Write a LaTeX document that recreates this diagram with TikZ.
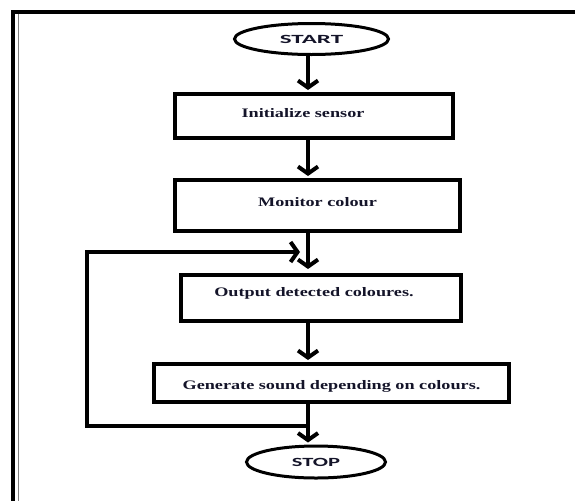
\documentclass[tikz,border=0pt]{standalone}
\usepackage{fontspec}
\setmainfont{Liberation Serif}
\newfontfamily\termfont{Carlito}
\usepackage{graphicx}
\usetikzlibrary{shapes.geometric,arrows.meta,calc}
\definecolor{inkc}{rgb}{0.08,0.08,0.16}
\newcommand{\boxtxt}[1]{\scalebox{1.4}[1]{#1}}
\newcommand{\termtxt}[2]{\scalebox{#1}[1]{#2}}
\tikzset{
  flowbox/.style={draw=black, line width=4pt, rectangle, inner sep=0pt,
    font=\fontsize{13}{15}\selectfont\bfseries, text=inkc, text height=10pt},
  termbox/.style={draw=black, line width=3pt, ellipse, inner sep=0pt,
    font=\termfont\bfseries\fontsize{12.5}{14}\selectfont, text=inkc},
  flowarrow/.style={line width=4pt, -{Straight Barb[length=7pt,width=20pt]}, shorten >=2pt},
  flowline/.style={line width=4pt},
}
\begin{document}
\begin{tikzpicture}[x=1pt,y=-1pt]
\useasboundingbox (0,0) rectangle (575,501);
% frame
\draw[line width=4pt] (11,12) -- (575,12);
\draw[line width=4pt] (13,10) -- (13,501);
\draw[gray, line width=1.2pt] (18.5,14) -- (18.5,501);
% nodes
\node[termbox, minimum width=154pt, minimum height=31pt] (start) at (311.5,39) {\termtxt{2.0}{START}};
\node[flowbox, minimum width=278pt, minimum height=44pt, text depth=8pt] (init) at (314,116) {\boxtxt{Initialize sensor}\kern22pt};
\node[flowbox, minimum width=285pt, minimum height=51pt, text depth=8pt] (mon) at (317.5,205.5) {\boxtxt{Monitor colour}};
\node[flowbox, minimum width=280pt, minimum height=46pt, text depth=13pt] (out) at (321,298) {\boxtxt{Output detected coloures.}\kern14pt};
\node[flowbox, minimum width=355pt, minimum height=38pt, text height=14pt, text depth=1pt] (gen) at (331.5,383) {\boxtxt{Generate sound depending on colours.}};
\node[termbox, minimum width=139pt, minimum height=32pt] (stop) at (316,462) {\termtxt{1.8}{STOP}};
% axis and loop coordinates
\coordinate (axis) at (308,0);
\coordinate (lb) at (87,426);
\coordinate (lt) at (87,252);
\coordinate (ltip) at (300,252);
% connectors
\draw[flowarrow] (axis |- start.south) -- (axis |- init.north);
\draw[flowarrow] (axis |- init.south) -- (axis |- mon.north);
\draw[flowarrow, shorten >=4pt] (axis |- mon.south) -- (axis |- out.north);
\draw[flowarrow] (axis |- out.south) -- (axis |- gen.north);
\draw[flowarrow] (axis |- gen.south) -- (axis |- stop.north);
\draw[flowarrow, shorten >=0pt] (axis |- lb) -- (lb) -- (lt) -- (ltip);
\end{tikzpicture}
\end{document}
